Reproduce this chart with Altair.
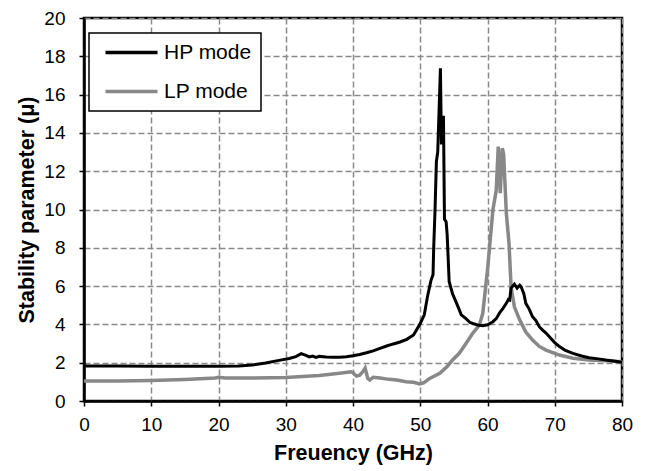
import altair as alt
import pandas as pd

# HP mode (black) trace
hp_freq = [0, 5, 10, 15, 20, 23, 25, 27, 29, 30.5, 31.5, 32.3, 33.0, 33.5, 34.0, 34.5, 35, 36, 37, 38, 39,
           40, 41, 42, 43, 44, 45, 46, 47, 48, 49, 50, 50.6, 51.1, 51.6, 51.9, 52.0, 52.2, 52.4, 52.6, 53.0,
           53.15, 53.45, 53.6, 53.85, 54.0, 54.3, 54.8, 55.3, 55.7, 56.1, 56.8, 57.4, 57.8, 58.5, 59.3, 60.0,
           60.8, 61.3, 61.8, 62.3, 62.8, 63.1, 63.3, 63.5, 64.0, 64.4, 64.8, 65.0, 65.4, 65.7, 66.2, 66.7,
           67.2, 67.7, 68.2, 68.7, 69.2, 70.0, 70.7, 71.5, 72.7, 74.0, 75.1, 76.5, 77.6, 79, 80]
hp_val = [1.83, 1.83, 1.82, 1.81, 1.81, 1.83, 1.88, 1.98, 2.12, 2.22, 2.32, 2.47, 2.38, 2.30, 2.35, 2.28, 2.33,
          2.30, 2.28, 2.28, 2.31, 2.36, 2.43, 2.52, 2.62, 2.75, 2.87, 2.98, 3.08, 3.22, 3.45, 4.05, 4.5, 5.5,
          6.3, 6.6, 8.0, 10.0, 12.5, 13.0, 17.37, 13.4, 14.9, 9.5, 9.35, 8.7, 6.23, 5.6, 5.19, 4.85, 4.5, 4.3,
          4.1, 4.05, 3.97, 3.93, 3.98, 4.14, 4.3, 4.6, 4.84, 5.1, 5.3, 5.27, 5.9, 6.1, 5.9, 6.05, 5.97, 5.6,
          5.1, 4.8, 4.4, 4.2, 3.88, 3.7, 3.55, 3.36, 3.05, 2.84, 2.66, 2.49, 2.35, 2.26, 2.2, 2.14, 2.08, 2.02]

# LP mode (gray) trace
lp_freq = [0, 5, 10, 15, 19.5, 20, 21, 25, 30, 35, 38, 39.7, 40, 40.5, 41.0, 41.5, 41.8, 42.2, 42.5, 43.0,
           44, 45.4, 46.5, 47.9, 49, 49.9, 50.5, 51.4, 52.9, 54.0, 54.8, 55.8, 56.8, 57.8, 58.8, 59.3, 60.0,
           60.8, 61.3, 61.6, 61.9, 62.2, 62.4, 62.8, 63.2, 63.5, 64.0, 64.7, 65.2, 65.7, 66.7, 67.7, 68.7,
           70.7, 72.7, 75.1, 77.6, 80]
lp_val = [1.04, 1.05, 1.07, 1.12, 1.2, 1.24, 1.2, 1.2, 1.23, 1.33, 1.45, 1.53, 1.48, 1.3, 1.35, 1.55, 1.72,
          1.18, 1.1, 1.24, 1.2, 1.13, 1.1, 1.01, 0.98, 0.89, 0.95, 1.18, 1.45, 1.8, 2.14, 2.49, 3.0, 3.53,
          3.97, 4.58, 6.84, 9.97, 11.0, 13.28, 10.85, 13.2, 12.9, 9.8, 8.23, 5.97, 4.92, 4.3, 3.95, 3.6,
          3.18, 2.85, 2.66, 2.4, 2.23, 2.14, 2.1, 2.05]

series_names = ["HP mode", "LP mode"]
series_colors = ["#000000", "#888888"]

hp = pd.DataFrame({"freq": hp_freq, "mu": hp_val, "mode": series_names[0]})
lp = pd.DataFrame({"freq": lp_freq, "mu": lp_val, "mode": series_names[1]})

x_enc = alt.X("freq:Q", title="Freuency (GHz)",
              scale=alt.Scale(domain=[0, 80], nice=False),
              axis=alt.Axis(values=list(range(0, 81, 10)), titlePadding=8, labelFlush=False,
                            tickSize=5, labelPadding=9))
y_enc = alt.Y("mu:Q", title="Stability parameter (μ)",
              scale=alt.Scale(domain=[0, 20], nice=False),
              axis=alt.Axis(values=list(range(0, 21, 2)), titlePadding=5, labelPadding=14,
                            tickSize=5, labelFlush=False))
color_enc = alt.Color("mode:N", scale=alt.Scale(domain=series_names, range=series_colors),
                      legend=alt.Legend(title=None, orient="none", legendX=5, legendY=15,
                                        fillColor="white", strokeColor="black",
                                        padding=9, symbolType="M-3.25,0H3.25", symbolSize=256,
                                        symbolStrokeWidth=3.5, symbolOffset=23,
                                        labelFontSize=21, labelOffset=22,
                                        rowPadding=17))

lp_line = alt.Chart(lp).mark_line(strokeWidth=3.5).encode(x=x_enc, y=y_enc, color=color_enc)
hp_line = alt.Chart(hp).mark_line(strokeWidth=3).encode(x=x_enc, y=y_enc, color=color_enc)

chart = alt.layer(lp_line, hp_line).properties(
    width=538, height=383,
    autosize=alt.AutoSizeParams(type="none"),
    padding={"left": 84, "top": 18, "right": 25, "bottom": 70},
).configure(font="Liberation Sans", background="white").configure_view(
    stroke="black", strokeWidth=2.5
).configure_axis(
    domainColor="black", domainWidth=2.5, tickColor="black", tickWidth=1.5,
    labelFontSize=19, labelColor="black", titleFontSize=21.5, titleFontWeight="bold",
    titleColor="black", gridColor="#8a8a8a", gridDash=[6, 3], gridWidth=1.5
).configure_legend(strokeWidth=1.5, cornerRadius=0, labelColor="black")

chart.save("out.html", embed_options={"renderer": "svg", "actions": False})
